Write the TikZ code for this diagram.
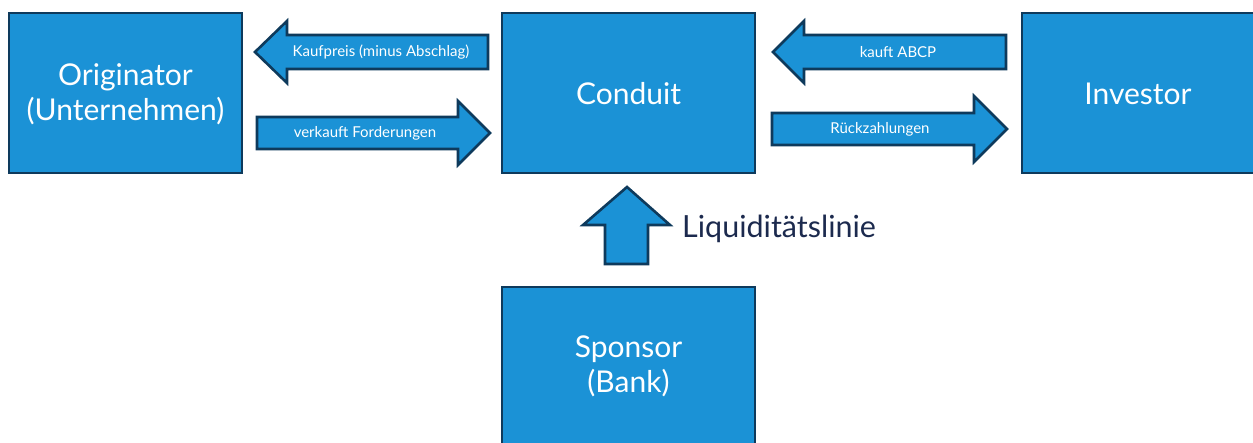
\documentclass[tikz,border=0pt]{standalone}
\usepackage{fontspec}
\setmainfont{Lato}
\definecolor{boxfill}{RGB}{27,146,214}
\definecolor{boxline}{RGB}{14,58,92}
\definecolor{navytext}{RGB}{28,42,78}
\begin{document}
\begin{tikzpicture}[x=1pt,y=-1pt,
  box/.style={draw=boxline,fill=boxfill,line width=2.6pt},
  boxtext/.style={text=white,align=center,font=\fontsize{30}{35}\selectfont},
  blockarrow/.style={draw=boxline,fill=boxfill,line width=2.6pt,line join=miter},
  arrowlabel/.style={text=white,font=\fontsize{15}{18}\selectfont,inner sep=0pt}]
\useasboundingbox (0,0) rectangle (1253,442);
% boxes
\path[box] (9,13) rectangle (242,173);
\node[boxtext] (orig) at (125.5,94) {Originator\\(Unternehmen)};
\path[box] (502,13) rectangle (755,173);
\node[boxtext] (cond) at (628.5,94) {Conduit};
\path[box] (1022,13) rectangle (1260,173);
\node[boxtext] (inv) at (1138,94) {Investor};
\path[box] (502,287) rectangle (755,450);
\node[boxtext] (spon) at (628.5,366) {Sponsor\\(Bank)};
% left arrows
\draw[blockarrow] (255,52) -- (287,21) -- (287,35) -- (488,35) -- (488,69) -- (287,69) -- (287,83) -- cycle;
\node[arrowlabel] (kauf) at (381,52) {Kaufpreis (minus Abschlag)};
\draw[blockarrow] (490,133) -- (458,101) -- (458,117) -- (257,117) -- (257,149) -- (458,149) -- (458,165) -- cycle;
\node[arrowlabel] (verk) at (365,133) {verkauft Forderungen};
% right arrows
\draw[blockarrow] (773,52) -- (804,21) -- (804,35) -- (1006,35) -- (1006,69) -- (804,69) -- (804,83) -- cycle;
\node[arrowlabel] (abcp) at (898,52) {kauft ABCP};
\draw[blockarrow] (1007,129) -- (974,96) -- (974,113) -- (772,113) -- (772,145) -- (974,145) -- (974,162) -- cycle;
\node[arrowlabel] (rueck) at (880,129) {Rückzahlungen};
% up arrow
\draw[blockarrow] (627,187) -- (670,225) -- (648,225) -- (648,264) -- (605,264) -- (605,225) -- (583,225) -- cycle;
\node[anchor=west,text=navytext,font=\fontsize{30.5}{36}\selectfont,inner sep=0pt] (liq) at (682,229) {Liquiditätslinie};
\end{tikzpicture}
\end{document}
